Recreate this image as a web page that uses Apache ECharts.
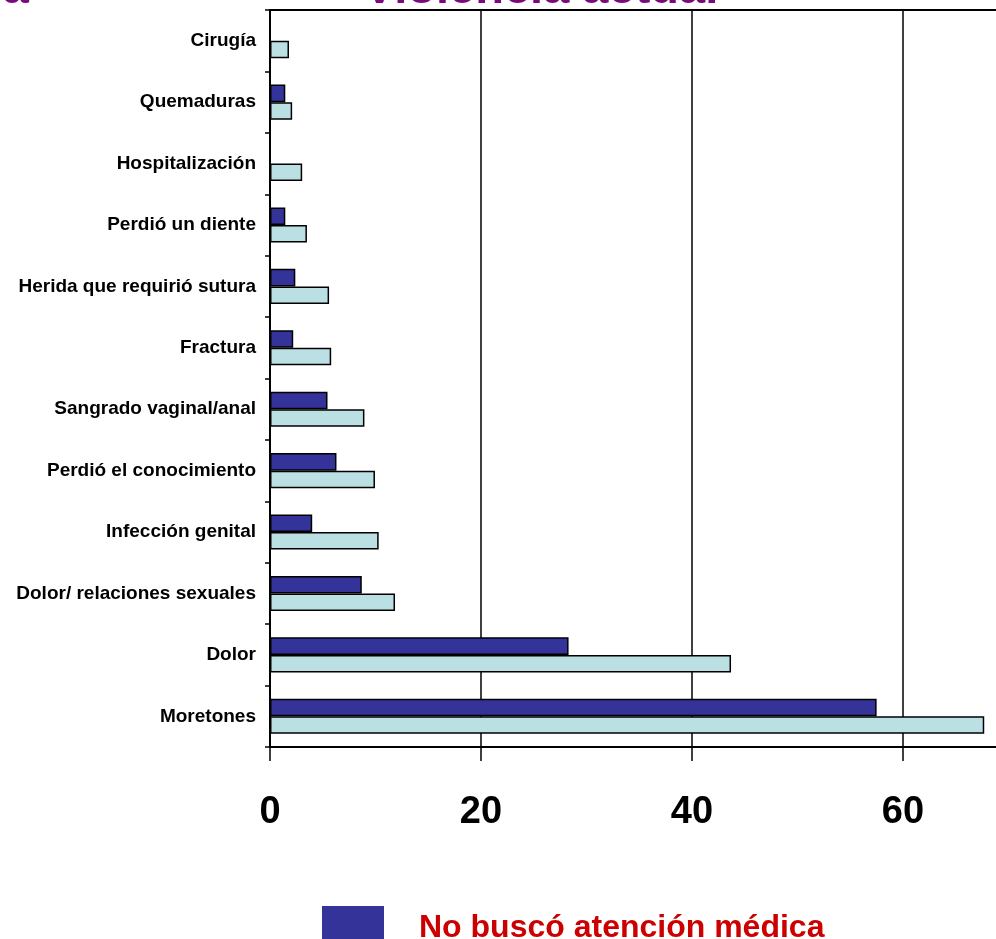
<!DOCTYPE html>
<html>
<head>
<meta charset="utf-8">
<script src="https://cdn.jsdelivr.net/npm/echarts@6/dist/echarts.min.js"></script>
<style>
html,body{margin:0;padding:0;background:#fff;}
#main{width:996px;height:939px;}
</style>
</head>
<body>
<div id="main"></div>
<script>
const categories = ['Cirugía','Quemaduras','Hospitalización','Perdió un diente','Herida que requirió sutura','Fractura','Sangrado vaginal/anal','Perdió el conocimiento','Infección genital','Dolor/ relaciones sexuales','Dolor','Moretones'];
const noBusco = [0, 1.45, 0, 1.45, 2.4, 2.2, 5.45, 6.3, 4.0, 8.7, 28.3, 57.5];
const busco = [1.8, 2.1, 3.05, 3.5, 5.6, 5.8, 8.95, 9.95, 10.3, 11.85, 43.7, 67.7];
const xTicks = [0, 20, 40, 60, 80];
const seriesNames = ['No buscó atención médica', 'Buscó atención médica'];
const titleText = 'Violencia actual';
const leftFragment = 'ia';

const chart = echarts.init(document.getElementById('main'));
const F = 'Arial, "Liberation Sans", sans-serif';
chart.setOption({
  animation: false,
  backgroundColor: '#ffffff',
  graphic: [
    {type:'text', style:{text: leftFragment, x: 29, y: -10, textAlign:'right', textVerticalAlign:'middle', font:'bold 47px ' + F, fill:'#7a0a7a'}},
    {type:'text', style:{text: titleText, x: 541, y: -10, textAlign:'center', textVerticalAlign:'middle', font:'bold 47px ' + F, fill:'#7a0a7a'}}
  ],
  legend: {
    orient: 'vertical',
    left: 317,
    top: 901,
    height: 300,
    itemWidth: 62,
    itemHeight: 35,
    itemGap: 60,
    icon: 'rect',
    itemStyle: {borderWidth: 0},
    formatter: function (name) { return '{a|' + name + '}'; },
    textStyle: {
      color:'#cc0000', fontSize: 32, fontWeight:'bold', fontFamily: F, padding:[0,0,0,30],
      rich: {a: {color:'#cc0000', fontSize: 32, fontWeight:'bold', fontFamily: F, padding:[10,0,0,0]}}
    },
    data: seriesNames
  },
  grid: {
    left: 270, top: 10, width: 844, height: 737,
    outerBoundsMode: 'none',
    containLabel: false,
    show: true, borderColor: '#000', borderWidth: 2, backgroundColor: 'transparent'
  },
  xAxis: {
    type: 'value', min: xTicks[0], max: xTicks[xTicks.length-1], interval: 20,
    axisLine: {show: true, lineStyle:{color:'#000', width: 2}},
    axisTick: {show: true, length: 14, lineStyle:{color:'#000', width: 1.5}},
    splitLine: {show: true, lineStyle:{color:'#000', width: 1.5}},
    axisLabel: {color:'#000', fontSize: 38, fontWeight:'bold', fontFamily: F, margin: 47}
  },
  yAxis: {
    type: 'category', inverse: true, data: categories,
    axisLine: {show: true, lineStyle:{color:'#000', width: 2}},
    axisTick: {show: true, length: 5, lineStyle:{color:'#000', width: 1.5}},
    axisLabel: {color:'#000', fontSize: 19, fontWeight:'bold', fontFamily: F, margin: 14}
  },
  series: [
    {name: seriesNames[0], type:'bar', data: noBusco, barGap:'0%', barCategoryGap:'43%',
     itemStyle:{color:'#333399', borderColor:'#000', borderWidth:1.5}},
    {name: seriesNames[1], type:'bar', data: busco, barGap:'0%', barCategoryGap:'43%',
     itemStyle:{color:'#bbe0e3', borderColor:'#000', borderWidth:1.5}}
  ]
});
</script>
</body>
</html>
